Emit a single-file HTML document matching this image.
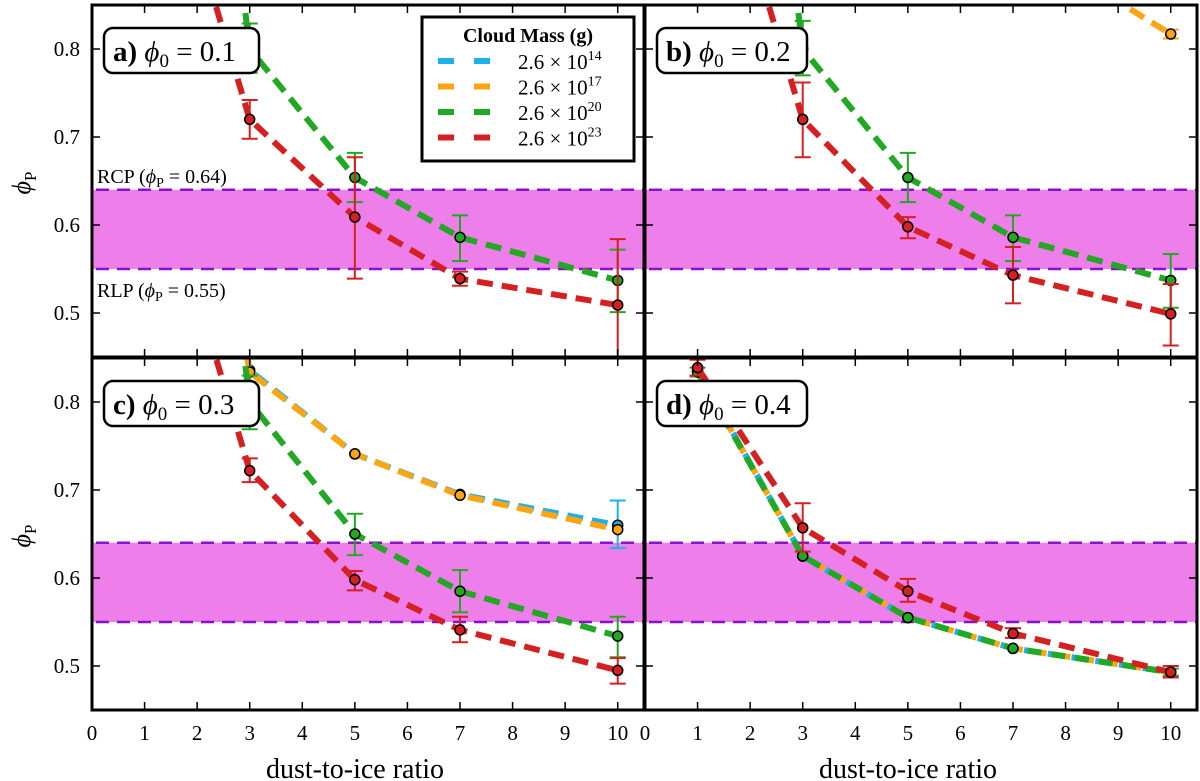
<!DOCTYPE html>
<html><head><meta charset="utf-8"><style>
html,body{margin:0;padding:0;background:#fff;}
svg{display:block;font-family:"Liberation Serif","DejaVu Serif",serif;}
</style></head><body>
<svg id="chart" width="1200" height="781" viewBox="0 0 1200 781" xmlns="http://www.w3.org/2000/svg">
<defs>
<clipPath id="clipTL"><rect x="92" y="5" width="552" height="352"/></clipPath>
<clipPath id="clipTR"><rect x="645" y="5" width="552" height="352"/></clipPath>
<clipPath id="clipBL"><rect x="92" y="358" width="552" height="352"/></clipPath>
<clipPath id="clipBR"><rect x="645" y="358" width="552" height="352"/></clipPath>
</defs>
</svg>
<script>
const xCats = [1, 3, 5, 7, 10];
const xTicks = [0,1,2,3,4,5,6,7,8,9,10];
const yTicks = [0.5, 0.6, 0.7, 0.8];
const bandLow = 0.55, bandHigh = 0.64;
const massLabels = ["14","17","20","23"];
const panelLabels = ["a)", "b)", "c)", "d)"];
const phi0Values = ["0.1", "0.2", "0.3", "0.4"];
// panel a
const aRed = [1.12, 0.72, 0.609, 0.539, 0.509];
const aRedLo = [null, 0.698, 0.539, 0.531, 0.40];
const aRedHi = [null, 0.742, 0.677, 0.547, 0.584];
const aGreen = [1.8, 0.80, 0.654, 0.586, 0.537];
const aGreenLo = [null, 0.773, 0.626, 0.559, 0.501];
const aGreenHi = [null, 0.829, 0.682, 0.611, 0.572];
// panel b
const bOrange = [1.5, 1.2, 1.0, 0.927, 0.817];
const bGreen = [1.8, 0.80, 0.654, 0.586, 0.537];
const bGreenLo = [null, 0.77, 0.626, 0.559, 0.506];
const bGreenHi = [null, 0.832, 0.682, 0.611, 0.567];
const bRed = [1.12, 0.72, 0.598, 0.543, 0.499];
const bRedLo = [null, 0.677, 0.585, 0.511, 0.463];
const bRedHi = [null, 0.762, 0.609, 0.575, 0.533];
// panel c
const cBlue = [1.5, 0.836, 0.741, 0.695, 0.660];
const cBlueLo = [null, 0.81, null, null, 0.634];
const cBlueHi = [null, 0.87, null, null, 0.688];
const cOrange = [1.5, 0.834, 0.741, 0.694, 0.655];
const cGreen = [1.8, 0.80, 0.65, 0.585, 0.534];
const cGreenLo = [null, 0.769, 0.626, 0.561, 0.51];
const cGreenHi = [null, 0.83, 0.673, 0.609, 0.556];
const cRed = [1.12, 0.722, 0.598, 0.541, 0.495];
const cRedLo = [null, 0.709, 0.586, 0.527, 0.48];
const cRedHi = [null, 0.736, 0.608, 0.556, 0.509];
// panel d
const dBlue = [0.836, 0.625, 0.555, 0.52, 0.493];
const dOrange = [0.835, 0.625, 0.555, 0.52, 0.493];
const dGreen = [0.834, 0.625, 0.555, 0.52, 0.493];
const dRed = [0.839, 0.657, 0.585, 0.537, 0.493];
const dRedLo = [0.83, 0.63, 0.573, 0.532, 0.487];
const dRedHi = [0.848, 0.685, 0.599, 0.543, 0.5];

const COL = {blue:"#1fb0ec", orange:"#ffa514", green:"#22a822", red:"#d42020"};
const svg = document.getElementById('chart');
const NS = "http://www.w3.org/2000/svg";
function mk(tag, attrs, parent){ const e=document.createElementNS(NS,tag); for(const k in attrs) e.setAttribute(k,attrs[k]); (parent||svg).appendChild(e); return e; }
const NONE5 = [null,null,null,null,null];

const panels = [
 {x0:92, y0:5, clip:"clipTL", key:"a", series:[
   {c:"green", v:aGreen, lo:aGreenLo, hi:aGreenHi},
   {c:"red", v:aRed, lo:aRedLo, hi:aRedHi}]},
 {x0:645, y0:5, clip:"clipTR", key:"b", series:[
   {c:"orange", v:bOrange, lo:[null,null,null,null,0.812], hi:[null,null,null,null,0.822]},
   {c:"green", v:bGreen, lo:bGreenLo, hi:bGreenHi},
   {c:"red", v:bRed, lo:bRedLo, hi:bRedHi}]},
 {x0:92, y0:358, clip:"clipBL", key:"c", series:[
   {c:"blue", v:cBlue, lo:cBlueLo, hi:cBlueHi},
   {c:"orange", v:cOrange, lo:NONE5, hi:NONE5},
   {c:"green", v:cGreen, lo:cGreenLo, hi:cGreenHi},
   {c:"red", v:cRed, lo:cRedLo, hi:cRedHi}]},
 {x0:645, y0:358, clip:"clipBR", key:"d", series:[
   {c:"blue", v:dBlue, lo:NONE5, hi:NONE5, dash:"16 8", off:0},
   {c:"orange", v:dOrange, lo:NONE5, hi:NONE5, dash:"10 14", off:-12},
   {c:"green", v:dGreen, lo:[0.829,null,null,null,0.489], hi:[0.839,null,null,null,0.497], dash:"14 10", off:-26},
   {c:"red", v:dRed, lo:dRedLo, hi:dRedHi}]}
];
const W=552, H=352, XMAX=10.5, YMIN=0.45, YMAX=0.85;

panels.forEach((p, pi) => {
  const sx = v => p.x0 + v / XMAX * W;
  const sy = v => p.y0 + (YMAX - v) / (YMAX - YMIN) * H;
  const g = mk('g', {});
  
  
  const cg = mk('g', {'clip-path':'url(#'+p.clip+')'}, g);
  const band = mk('rect', {x:p.x0, y:sy(bandHigh), width:W, height:sy(bandLow)-sy(bandHigh), fill:"#ee7eea"}, cg);
  
  
  [bandHigh, bandLow].forEach(b => {
    const l = mk('line', {x1:p.x0, x2:p.x0+W, y1:sy(b), y2:sy(b), stroke:"#8a10d0", 'stroke-width':2.5, 'stroke-dasharray':"13 8", 'stroke-dashoffset':"-4"}, cg);
    
    
  });
  p.series.forEach(s => {
    const pts = [];
    s.v.forEach((v,i) => { if(v!==null) pts.push(sx(xCats[i]).toFixed(1)+","+sy(v).toFixed(1)); });
    const line = mk('polyline', {points:pts.join(" "), fill:"none", stroke:COL[s.c], 'stroke-width':6, 'stroke-dasharray':s.dash || "16 9", 'stroke-dashoffset': s.off || 0}, cg);
    
    
    s.v.forEach((v,i) => {
      if (s.lo[i]!==null && s.hi[i]!==null) {
        const x = sx(xCats[i]);
        const eb = mk('g', {stroke:COL[s.c], 'stroke-width':2}, cg);
        
        
        mk('line', {x1:x, x2:x, y1:sy(s.lo[i]), y2:sy(s.hi[i])}, eb);
        mk('line', {x1:x-8, x2:x+8, y1:sy(s.lo[i]), y2:sy(s.lo[i])}, eb);
        mk('line', {x1:x-8, x2:x+8, y1:sy(s.hi[i]), y2:sy(s.hi[i])}, eb);
      }
      if (v!==null) {
        const c = mk('circle', {cx:sx(xCats[i]), cy:sy(v), r:5, fill:COL[s.c], stroke:"#000", 'stroke-width':1.5}, cg);
        
        
      }
    });
  });
  const tg = mk('g', {stroke:"#000", 'stroke-width':1.5}, g);
  xTicks.forEach(t => {
    mk('line', {x1:sx(t), x2:sx(t), y1:p.y0+H, y2:p.y0+H-8}, tg);
    mk('line', {x1:sx(t), x2:sx(t), y1:p.y0, y2:p.y0+8}, tg);
  });
  yTicks.forEach(t => {
    mk('line', {x1:p.x0, x2:p.x0+8, y1:sy(t), y2:sy(t)}, tg);
    mk('line', {x1:p.x0+W, x2:p.x0+W-8, y1:sy(t), y2:sy(t)}, tg);
  });
  const frame = mk('rect', {x:p.x0, y:p.y0, width:W, height:H, fill:"none", stroke:"#000", 'stroke-width':3}, g);
  
  
  if (p.x0 < 300) {
    yTicks.forEach(t => {
      const tx = mk('text', {x:p.x0-12, y:sy(t)+7, 'text-anchor':'end', 'font-size':21}, g);
      tx.textContent = t.toFixed(1);
      
      
    });
    const yl = mk('text', {x:0, y:0, 'font-size':26, 'font-style':'italic', transform:'translate(30,'+(p.y0+H/2+2)+') rotate(-90)', 'text-anchor':'middle'}, g);
    yl.innerHTML = 'ϕ<tspan font-size="17" font-style="normal" dy="6">P</tspan>';
    
    
  }
  if (p.y0 > 300) {
    xTicks.forEach(t => {
      const tx = mk('text', {x:sx(t), y:740, 'text-anchor':'middle', 'font-size':21}, g);
      tx.textContent = t;
      
      
    });
    const xl = mk('text', {x:p.x0+263, y:778, 'text-anchor':'middle', 'font-size':28}, g);
    xl.textContent = 'dust-to-ice ratio';
    
    
  }
  const lb = mk('g', {}, g);
  
  
  mk('rect', {x:p.x0+12, y:p.y0+23, width:p.x0>300?150:155, height:45, rx:9, fill:"#fff", stroke:"#000", 'stroke-width':2.5}, lb);
  const lt = mk('text', {x:p.x0+21, y:p.y0+56, 'font-size':29}, lb);
  lt.innerHTML = '<tspan font-weight="bold">' + panelLabels[pi] + '</tspan> <tspan font-style="italic">ϕ</tspan><tspan font-size="19" dy="6">0</tspan><tspan dy="-6"> = ' + phi0Values[pi] + '</tspan>';
});

const rcp = mk('text', {x:97, y:183, 'font-size':20});
rcp.innerHTML = 'RCP (<tspan font-style="italic">ϕ</tspan><tspan font-size="14" dy="4">P</tspan><tspan dy="-4"> = 0.64)</tspan>';


const rlp = mk('text', {x:97, y:297, 'font-size':20});
rlp.innerHTML = 'RLP (<tspan font-style="italic">ϕ</tspan><tspan font-size="14" dy="4">P</tspan><tspan dy="-4"> = 0.55)</tspan>';



const lg = mk('g', {});


mk('rect', {x:422, y:17, width:212, height:144, fill:"#fff", stroke:"#000", 'stroke-width':3}, lg);
const ltt = mk('text', {x:528, y:42, 'text-anchor':'middle', 'font-size':20, 'font-weight':'bold'}, lg);
ltt.textContent = 'Cloud Mass (g)';
['blue','orange','green','red'].forEach((c,i) => {
  const y = 61 + i*25.5;
  const e = mk('g', {}, lg);
  
  
  mk('line', {x1:438, x2:491, y1:y, y2:y, stroke:COL[c], 'stroke-width':6, 'stroke-dasharray':"16 20"}, e);
  const t = mk('text', {x:518, y:y+8, 'font-size':21}, e);
  t.innerHTML = '2.6 × 10<tspan font-size="14" dy="-9">' + massLabels[i] + '</tspan>';
});
</script>
</body></html>
